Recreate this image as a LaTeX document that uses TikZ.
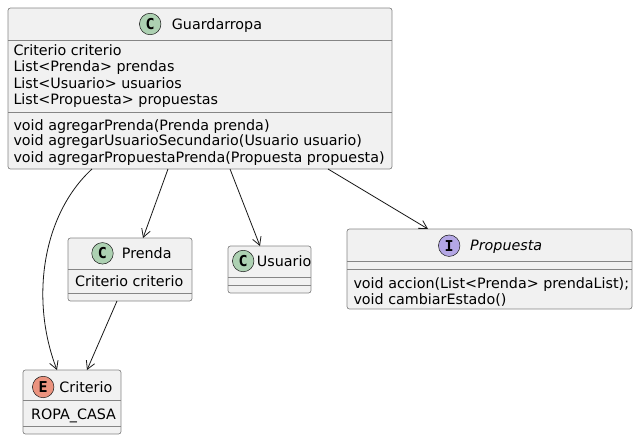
\documentclass[tikz,border=0pt]{standalone}
\usepackage{fontspec}
\setmainfont{DejaVu Sans}
\newfontfamily\spotfont{DejaVu Sans Mono}
\usetikzlibrary{arrows.meta}
\definecolor{boxfill}{HTML}{F1F1F1}
\definecolor{linec}{HTML}{181818}
\definecolor{borderc}{HTML}{858585}
\definecolor{spotC}{HTML}{ADD1B2}
\definecolor{spotE}{HTML}{EB937F}
\definecolor{spotI}{HTML}{B4A7E5}
\begin{document}
\begin{tikzpicture}[x=1pt,y=-1pt,
  umlbox/.style={draw=borderc, fill=boxfill, line width=0.7pt, rounded corners=2.5pt, inner sep=0pt, outer sep=0pt, anchor=north west},
  sep/.style={draw=borderc, line width=0.7pt},
  txt/.style={anchor=base west, inner sep=0pt, font=\fontsize{14.3}{16}\selectfont, text=black},
  spot/.style={circle, draw=linec, line width=0.5pt, minimum size=21.5pt, inner sep=0pt, font=\spotfont\bfseries\fontsize{15}{15}\selectfont},
  assoc/.style={draw=linec, line width=0.8pt, -{Straight Barb[length=8pt,width=9pt]}}]
\useasboundingbox (0,0) rectangle (638,440);

% Guardarropa
\node[umlbox, minimum width=384pt, minimum height=161pt] (G) at (8,8) {};
\draw[sep] (8,40) -- (392,40);
\draw[sep] (8,112) -- (392,112);
\node[spot, fill=spotC] (Gs) at (150.2,24) {C};
\node[txt] (Gt) at (171.7,29) {Guardarropa};
\node[txt] (Ga1) at (13.3,55.5) {Criterio criterio};
\node[txt] (Ga2) at (13.3,71.8) {List<Prenda> prendas};
\node[txt] (Ga3) at (13.3,88) {List<Usuario> usuarios};
\node[txt] (Ga4) at (13.3,104.4) {List<Propuesta> propuestas};
\node[txt] (Gm1) at (13.3,130) {void agregarPrenda(Prenda prenda)};
\node[txt] (Gm2) at (13.3,145.8) {void agregarUsuarioSecundario(Usuario usuario)};
\node[txt] (Gm3) at (13.3,162) {void agregarPropuestaPrenda(Propuesta propuesta)};

% Prenda
\node[umlbox, minimum width=124pt, minimum height=63pt] (P) at (68,238) {};
\draw[sep] (68,269.3) -- (192,269.3);
\draw[sep] (68,293.3) -- (192,293.3);
\node[spot, fill=spotC] (Ps) at (102.5,253.3) {C};
\node[txt] (Pt) at (121.7,258.3) {Prenda};
\node[txt] (Pa1) at (75,286) {Criterio criterio};

% Usuario
\node[umlbox, minimum width=83pt, minimum height=47pt] (U) at (228,246) {};
\draw[sep] (228,277.3) -- (311,277.3);
\draw[sep] (228,285.3) -- (311,285.3);
\node[spot, fill=spotC] (Us) at (243.2,261) {C};
\node[txt] (Ut) at (256.7,266) {Usuario};

% Criterio
\node[umlbox, minimum width=98pt, minimum height=64pt] (C) at (23,370) {};
\draw[sep] (23,400.7) -- (121,400.7);
\draw[sep] (23,426.7) -- (121,426.7);
\node[spot, fill=spotE] (Cs) at (43.2,387) {E};
\node[txt] (Ct) at (59.3,392) {Criterio};
\node[txt] (Ca1) at (31,419) {ROPA\_CASA};

% Propuesta
\node[umlbox, minimum width=285pt, minimum height=80pt] (R) at (347,229) {};
\draw[sep] (347,261) -- (632,261);
\draw[sep] (347,269.3) -- (632,269.3);
\node[spot, fill=spotI] (Rs) at (449.2,245.7) {I};
\node[txt, font=\fontsize{14.3}{16}\selectfont\itshape] (Rt) at (470,250.7) {Propuesta};
\node[txt] (Rm1) at (353.3,288.3) {void accion(List<Prenda> prendaList);};
\node[txt] (Rm2) at (353.3,304) {void cambiarEstado()};

% connectors
\draw[assoc] ([xshift=84pt]G.south west) .. controls (42,215) and (30,300) .. ([xshift=34pt]C.north west);
\draw[assoc] ([xshift=160pt]G.south west) -- ([xshift=75pt]P.north west);
\draw[assoc] ([xshift=222pt]G.south west) -- ([xshift=32pt]U.north west);
\draw[assoc] ([xshift=320pt]G.south west) -- ([xshift=81pt]R.north west);
\draw[assoc] ([xshift=49pt]P.south west) -- ([xshift=64pt]C.north west);
\end{tikzpicture}
\end{document}
